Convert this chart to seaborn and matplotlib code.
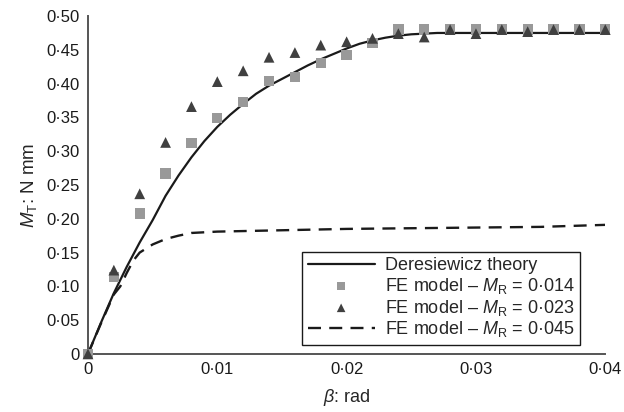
import matplotlib
matplotlib.use("Agg")
import matplotlib.pyplot as plt
import seaborn as sns
import pandas as pd

# Deresiewicz theory curve
beta_theory = [0, 0.001, 0.002, 0.003, 0.004, 0.005, 0.006, 0.007, 0.008, 0.009,
               0.010, 0.011, 0.012, 0.013, 0.014, 0.015, 0.016, 0.017, 0.018, 0.019,
               0.020, 0.021, 0.022, 0.023, 0.024, 0.025, 0.026, 0.027, 0.028,
               0.030, 0.035, 0.040]
mt_theory = [0, 0.046, 0.090, 0.129, 0.165, 0.198, 0.234, 0.264, 0.291, 0.315,
             0.336, 0.354, 0.370, 0.385, 0.397, 0.407, 0.417, 0.427, 0.436, 0.444,
             0.452, 0.459, 0.464, 0.468, 0.471, 0.473, 0.474, 0.475, 0.475,
             0.475, 0.475, 0.475]

# FE model, M_R = 0.014 (squares)
beta_fe = [0, 0.002, 0.004, 0.006, 0.008, 0.010, 0.012, 0.014, 0.016, 0.018, 0.020,
           0.022, 0.024, 0.026, 0.028, 0.030, 0.032, 0.034, 0.036, 0.038, 0.040]
mt_014 = [0, 0.114, 0.208, 0.267, 0.312, 0.349, 0.373, 0.404, 0.410, 0.431, 0.442,
          0.460, 0.480, 0.480, 0.480, 0.480, 0.480, 0.480, 0.480, 0.480, 0.480]
# FE model, M_R = 0.023 (triangles)
mt_023 = [0, 0.124, 0.237, 0.313, 0.366, 0.403, 0.419, 0.439, 0.446, 0.457, 0.462,
          0.467, 0.474, 0.469, 0.480, 0.474, 0.480, 0.477, 0.480, 0.480, 0.480]

# FE model, M_R = 0.045 (dashed)
beta_045 = [0, 0.001, 0.002, 0.0025, 0.003, 0.0035, 0.004, 0.005, 0.006, 0.007,
            0.008, 0.010, 0.015, 0.020, 0.025, 0.030, 0.035, 0.040]
mt_045 = [0, 0.045, 0.088, 0.100, 0.120, 0.138, 0.150, 0.162, 0.170, 0.175,
          0.179, 0.181, 0.183, 0.185, 0.186, 0.187, 0.188, 0.191]

xticks = [0, 0.01, 0.02, 0.03, 0.04]
xtick_labels = ['0', '0·01', '0·02', '0·03', '0·04']
yticks = [0, 0.05, 0.10, 0.15, 0.20, 0.25, 0.30, 0.35, 0.40, 0.45, 0.50]
ytick_labels = ['0', '0·05', '0·10', '0·15', '0·20', '0·25', '0·30', '0·35',
                '0·40', '0·45', '0·50']

sns.set_style('white')
plt.rcParams['font.family'] = ['Liberation Sans', 'DejaVu Sans']
plt.rcParams['font.size'] = 12
plt.rcParams['mathtext.fontset'] = 'custom'
plt.rcParams['mathtext.rm'] = 'Liberation Sans'
plt.rcParams['mathtext.it'] = 'Liberation Sans:italic'

fig = plt.figure(figsize=(6.24, 4.12), dpi=100)
ax = fig.add_axes([0.141, 0.141, 0.829, 0.820])

df_th = pd.DataFrame({'beta': beta_theory, 'mt': mt_theory})
df_fe = pd.DataFrame({'beta': beta_fe, 'm014': mt_014, 'm023': mt_023})
df_45 = pd.DataFrame({'beta': beta_045, 'mt': mt_045})

sns.lineplot(data=df_th, x='beta', y='mt', ax=ax, color='#1a1a1a', lw=1.6,
             label='Deresiewicz theory', clip_on=False)
sns.scatterplot(data=df_fe, x='beta', y='m014', ax=ax, marker='s', s=55,
                color='#999999', edgecolor='none', clip_on=False, zorder=3,
                label=r'FE model – $\mathit{M}_{\mathrm{R}}$ = 0·014')
sns.scatterplot(data=df_fe, x='beta', y='m023', ax=ax, marker='^', s=60,
                color='#404040', edgecolor='none', clip_on=False, zorder=4,
                label=r'FE model – $\mathit{M}_{\mathrm{R}}$ = 0·023')
sns.lineplot(data=df_45, x='beta', y='mt', ax=ax, color='#1a1a1a', lw=1.7,
             ls=(0, (5.5, 3.5)), label=r'FE model – $\mathit{M}_{\mathrm{R}}$ = 0·045')

ax.set_xlim(0, 0.04)
ax.set_ylim(0, 0.5)
ax.set_xticks(xticks)
ax.set_xticklabels(xtick_labels)
ax.set_yticks(yticks)
ax.set_yticklabels(ytick_labels)
ax.tick_params(length=0, pad=6, colors='#1a1a1a')
ax.set_xlabel(r'$\mathit{\beta}$: rad', labelpad=7, fontsize=13)
ax.set_ylabel(r'$\mathit{M}_{\mathrm{T}}$: N mm', labelpad=5, fontsize=13.5)
sns.despine(ax=ax)
for s in ['left', 'bottom']:
    ax.spines[s].set_color('#555555')
    ax.spines[s].set_linewidth(1.4)

leg = ax.legend(loc='lower right', bbox_to_anchor=(0.952, 0.027),
                handlelength=3.7, handletextpad=0.6, labelspacing=0.1,
                borderpad=0.3, fancybox=False, framealpha=1, borderaxespad=0,
                fontsize=13, markerscale=0.8)
leg.get_frame().set_edgecolor('#1a1a1a')
leg.get_frame().set_linewidth(1.0)

fig.savefig('out.png', dpi=100)
